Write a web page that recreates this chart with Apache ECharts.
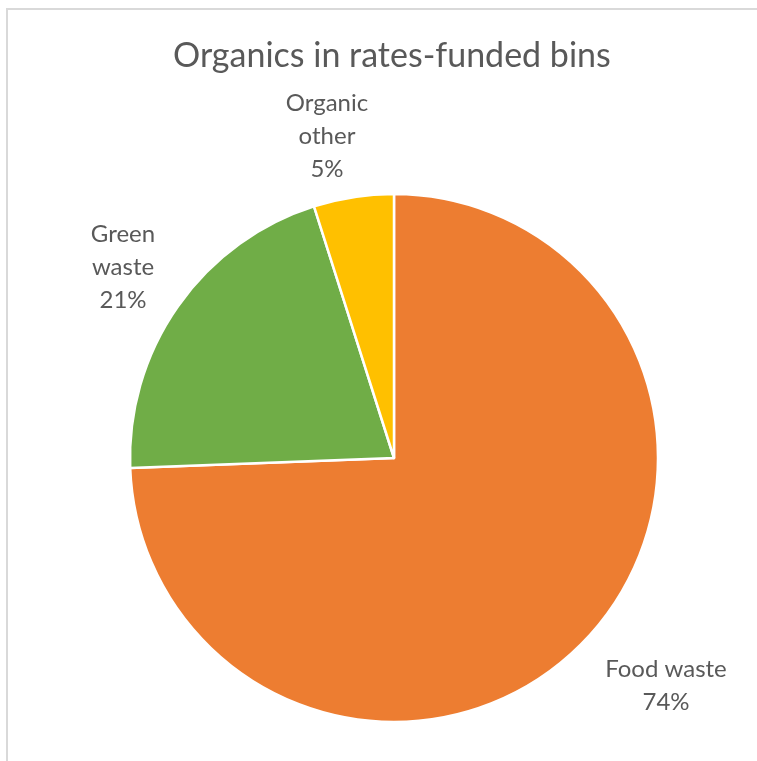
<!DOCTYPE html>
<html>
<head>
<meta charset="utf-8">
<script src="https://cdn.jsdelivr.net/npm/echarts@6/dist/echarts.min.js"></script>
<style>
  html, body { margin: 0; padding: 0; background: #fff; }
  #chart { width: 757px; height: 761px; }
</style>
</head>
<body>
<div id="chart"></div>
<script>
// Composition of organic material found in rates-funded bins (share, %)
const categories = ['Food waste', 'Green waste', 'Organic other'];
const labelNames = ['Food waste', 'Green\nwaste', 'Organic\nother'];
const shares = [74.4, 20.7, 4.9];
const colors = ['#ED7D31', '#70AD47', '#FFC000'];

// Label anchor points (centre of each text block)
const labelAnchors = [[666, 686], [123, 267], [327, 136]];

const FONT = 'Lato, "Open Sans", sans-serif';

const chart = echarts.init(document.getElementById('chart'), null, { renderer: 'canvas' });

chart.setOption({
  backgroundColor: '#ffffff',
  animation: false,
  title: {
    text: 'Organics in rates-funded bins',
    left: 168,
    top: 34,
    textStyle: { fontFamily: FONT, fontSize: 34, fontWeight: 'normal', color: '#595959' }
  },
  graphic: [{
    type: 'rect',
    shape: { x: 7, y: 9, width: 800, height: 800 },
    style: { fill: 'none', stroke: '#d9d9d9', lineWidth: 2 },
    silent: true
  }],
  series: [{
    type: 'pie',
    center: [394, 458],
    radius: [0, 264],
    startAngle: 90,
    clockwise: true,
    data: categories.map((name, i) => ({
      name: name,
      value: shares[i],
      itemStyle: { color: colors[i] }
    })),
    itemStyle: { borderColor: '#ffffff', borderWidth: 2.5 },
    label: {
      show: true,
      position: 'outside',
      formatter: p => labelNames[p.dataIndex] + '\n' + Math.round(p.percent) + '%',
      fontFamily: FONT,
      fontSize: 24,
      lineHeight: 33,
      color: '#595959',
      align: 'center',
      overflow: 'none',
      width: 200
    },
    labelLine: { show: false },
    labelLayout: p => ({
      x: labelAnchors[p.dataIndex][0],
      y: labelAnchors[p.dataIndex][1],
      align: 'center',
      verticalAlign: 'middle'
    })
  }]
});
</script>
</body>
</html>
